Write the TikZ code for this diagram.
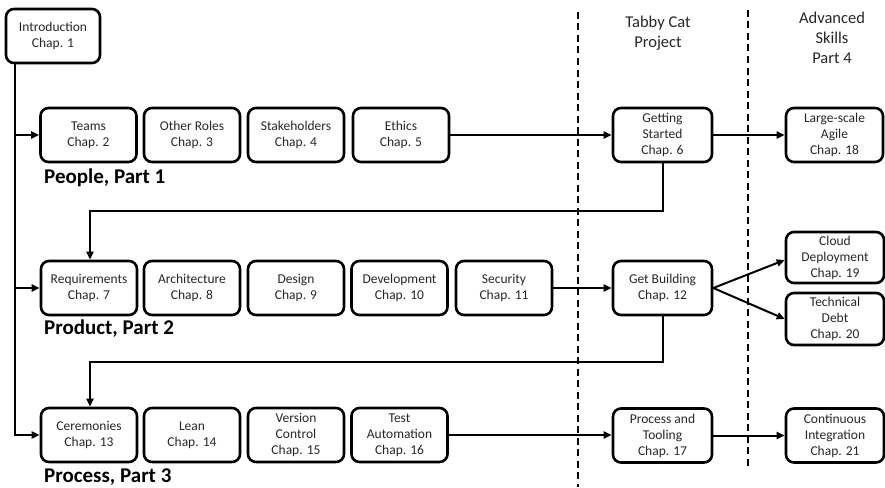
\documentclass[tikz,border=0pt]{standalone}
\usepackage{fontspec}
\setmainfont{Carlito}
\usetikzlibrary{arrows.meta,calc}
\begin{document}
\begin{tikzpicture}[x=1pt,y=-1pt,
  chap/.style={draw, line width=2.6pt, rounded corners=8pt, minimum width=96pt,
    minimum height=54pt, inner sep=0pt, align=center, font=\fontsize{13.5}{16}\selectfont,
    text=black!85},
  partlabel/.style={anchor=west, inner sep=0pt, font=\fontsize{21}{24}\selectfont\bfseries},
  coltitle/.style={align=center, inner sep=0pt, font=\fontsize{16.5}{20}\selectfont, text=black!85},
  link/.style={line width=2pt, -{Triangle[length=8pt,width=7pt]}},
  divider/.style={line width=2.4pt, dash pattern=on 7pt off 4.5pt}]
\useasboundingbox (0,0) rectangle (885,487);

% column dividers and titles
\draw[divider] (578,12) -- (578,487);
\draw[divider] (748,10) -- (748,470);
\node[coltitle] (tabby) at (658,33) {Tabby Cat\\Project};
\node[coltitle] (adv) at (832,38) {Advanced\\Skills\\Part 4};

% introduction
\node[chap, minimum width=94pt] (c1) at (53,36) {Introduction\\Chap. 1};

% part 1: people
\node[chap] (c2) at (88.5,135) {Teams\\Chap. 2};
\node[chap] (c3) at (192,135) {Other Roles\\Chap. 3};
\node[chap] (c4) at (296,135) {Stakeholders\\Chap. 4};
\node[chap] (c5) at (401,135) {Ethics\\Chap. 5};
\node[chap, minimum width=99pt] (c6) at (662.5,135) {Getting\\Started\\Chap. 6};
\node[chap, minimum width=97pt] (c18) at (834.5,135) {Large-scale\\Agile\\Chap. 18};
\node[partlabel] (p1) at (44,178) {People, Part 1};

% part 2: product
\node[chap] (c7) at (89,288) {Requirements\\Chap. 7};
\node[chap] (c8) at (192,288) {Architecture\\Chap. 8};
\node[chap] (c9) at (296,288) {Design\\Chap. 9};
\node[chap] (c10) at (399.5,288) {Development\\Chap. 10};
\node[chap] (c11) at (504,288) {Security\\Chap. 11};
\node[chap, minimum width=99pt] (c12) at (662.5,288) {Get Building\\Chap. 12};
\node[chap, minimum width=98pt, minimum height=51pt] (c19) at (835,257.5) {Cloud\\Deployment\\Chap. 19};
\node[chap, minimum width=98pt, minimum height=52pt] (c20) at (835,319) {Technical\\Debt\\Chap. 20};
\node[partlabel] (p2) at (44,329) {Product, Part 2};

% part 3: process
\node[chap] (c13) at (89,435) {Ceremonies\\Chap. 13};
\node[chap] (c14) at (192,435) {Lean\\Chap. 14};
\node[chap] (c15) at (296,435) {Version\\Control\\Chap. 15};
\node[chap] (c16) at (399.5,435) {Test\\Automation\\Chap. 16};
\node[chap, minimum width=99pt] (c17) at (662.5,435.5) {Process and\\Tooling\\Chap. 17};
\node[chap, minimum width=98pt] (c21) at (835,435.5) {Continuous\\Integration\\Chap. 21};
\node[partlabel] (p3) at (44,477) {Process, Part 3};

% trunk from the introduction to the three parts
\coordinate (trunk) at ($(c1.south west)+(10,0)$);
\draw[link] (trunk) |- (c13.west);
\draw[link] (trunk |- c2.west) -- (c2.west);
\draw[link] (trunk |- c7.west) -- (c7.west);

% flow within each part
\draw[link] (c5.east) -- (c6.west);
\draw[link] (c6.east) -- (c18.west);
\draw[link] (c11.east) -- (c12.west);
\draw[link] (c12.east) -- ($(c19.west)+(0,2.5)$);
\draw[link] (c12.east) -- (c20.west);
\draw[link] (c16.east) -- (c16.east -| c17.west);
\draw[link] (c17.east) -- (c17.east -| c21.west);

% returns from the project into the next part
\draw[link] (c6.south) |- (90,211) -- (90,211 |- c7.north);
\draw[link] (c12.south) |- (90,362) -- (90,362 |- c13.north);
\end{tikzpicture}
\end{document}
